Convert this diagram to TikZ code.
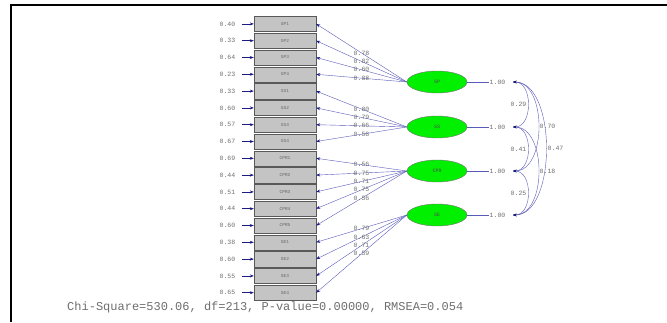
\documentclass[tikz,border=0pt]{standalone}
\usepackage{fontspec}
\setmonofont{Liberation Mono}
\usetikzlibrary{arrows.meta,shapes.geometric}
\definecolor{lineblue}{HTML}{5A5AB8}
\definecolor{headblue}{HTML}{1A1A80}
\definecolor{boxgray}{HTML}{C4C4C4}
\definecolor{latgreen}{HTML}{00F000}
\definecolor{txtgray}{HTML}{6E6E6E}
\begin{document}
\begin{tikzpicture}[x=1pt,y=-1pt,
  obs/.style={draw=black!65, fill=boxgray, minimum width=62pt, minimum height=15.2pt, inner sep=0pt, font=\ttfamily\fontsize{4.5}{5}\selectfont, text=black!60},
  lat/.style={ellipse, draw=black!55, fill=latgreen, minimum width=60pt, minimum height=22pt, inner sep=0pt, font=\ttfamily\fontsize{5}{5}\selectfont, text=black!70},
  lbl/.style={font=\ttfamily\fontsize{6.5}{7}\selectfont, text=txtgray, inner sep=0.5pt},
  ldg/.style={draw=lineblue, line width=0.4pt, -{Stealth[length=4pt,width=3pt,color=headblue]}},
  errarr/.style={draw=headblue, line width=0.6pt, -{Stealth[length=4pt,width=3pt,color=headblue]}},
  covarr/.style={draw=lineblue, line width=0.4pt, {Stealth[length=3.5pt,width=2.6pt,color=headblue]}-{Stealth[length=3.5pt,width=2.6pt,color=headblue]}},
]
\useasboundingbox (0,0) rectangle (667,322);
% frame
\draw[line width=1.5pt] (11,322) -- (11,5) -- (667,5);

% observed variables with error variances
\foreach \i/\nm/\ev in {1/SP1/0.40,2/SP2/0.33,3/SP3/0.64,4/SP4/0.23,
  5/SS1/0.33,6/SS2/0.60,7/SS3/0.57,8/SS4/0.67,
  9/CPR1/0.69,10/CPR2/0.44,11/CPR3/0.51,12/CPR4/0.44,13/CPR5/0.60,
  14/SE1/0.38,15/SE2/0.60,16/SE3/0.55,17/SE4/0.65}{
  \pgfmathsetmacro\yy{15.5+16.8*(\i-0.5)}
  \node[obs] (b\i) at (285,\yy) {\nm};
  \node[lbl, anchor=east] (e\i) at (236,\yy) {\ev};
  \coordinate (s\i) at (242,\yy);
  \draw[errarr] (s\i) -- (b\i.west);
}

% latent variables
\node[lat] (f1) at (437,82) {SP};
\node[lat] (f2) at (437,127) {SS};
\node[lat] (f3) at (437,171) {CPR};
\node[lat] (f4) at (437,215) {SE};

% loadings
\foreach \i/\f/\l in {1/f1/0.78,2/f1/0.82,3/f1/0.60,4/f1/0.88,
  5/f2/0.80,6/f2/0.79,7/f2/0.66,8/f2/0.58,
  9/f3/0.56,10/f3/0.75,11/f3/0.71,12/f3/0.75,13/f3/0.56,
  14/f4/0.79,15/f4/0.63,16/f4/0.71,17/f4/0.59}{
  \draw[ldg] (\f.west) -- node[lbl,pos=0.5] {\l} (b\i.east);
}

% factor variances
\foreach \k in {1,2,3,4}{
  \node[lbl, anchor=west] (v\k) at (489,0 |- f\k) {1.00};
  \draw[draw=lineblue, line width=0.4pt] (f\k.east) -- (v\k.west);
  \coordinate (c\k) at (513,0 |- f\k);
}

% covariances
\draw[covarr] (c1) .. controls +(20,0) and +(20,0) .. node[lbl,pos=0.5,left=1pt] {0.29} (c2);
\draw[covarr] (c2) .. controls +(20,0) and +(20,0) .. node[lbl,pos=0.5,left=1pt] {0.41} (c3);
\draw[covarr] (c3) .. controls +(20,0) and +(20,0) .. node[lbl,pos=0.5,left=1pt] {0.25} (c4);
\draw[covarr] (c1) .. controls +(34,0) and +(34,0) .. node[lbl,pos=0.5,right=0.5pt] {0.70} (c3);
\draw[covarr] (c2) .. controls +(34,0) and +(34,0) .. node[lbl,pos=0.5,right=0.5pt] {0.18} (c4);
\draw[covarr] (c1) .. controls +(44,0) and +(44,0) .. node[lbl,pos=0.5,right=1pt] {0.47} (c4);

% fit statistics
\node[font=\ttfamily\fontsize{12}{12}\selectfont, text=txtgray, anchor=west, inner sep=0pt] (fit) at (67,307) {Chi-Square=530.06, df=213, P-value=0.00000, RMSEA=0.054};
\end{tikzpicture}
\end{document}
